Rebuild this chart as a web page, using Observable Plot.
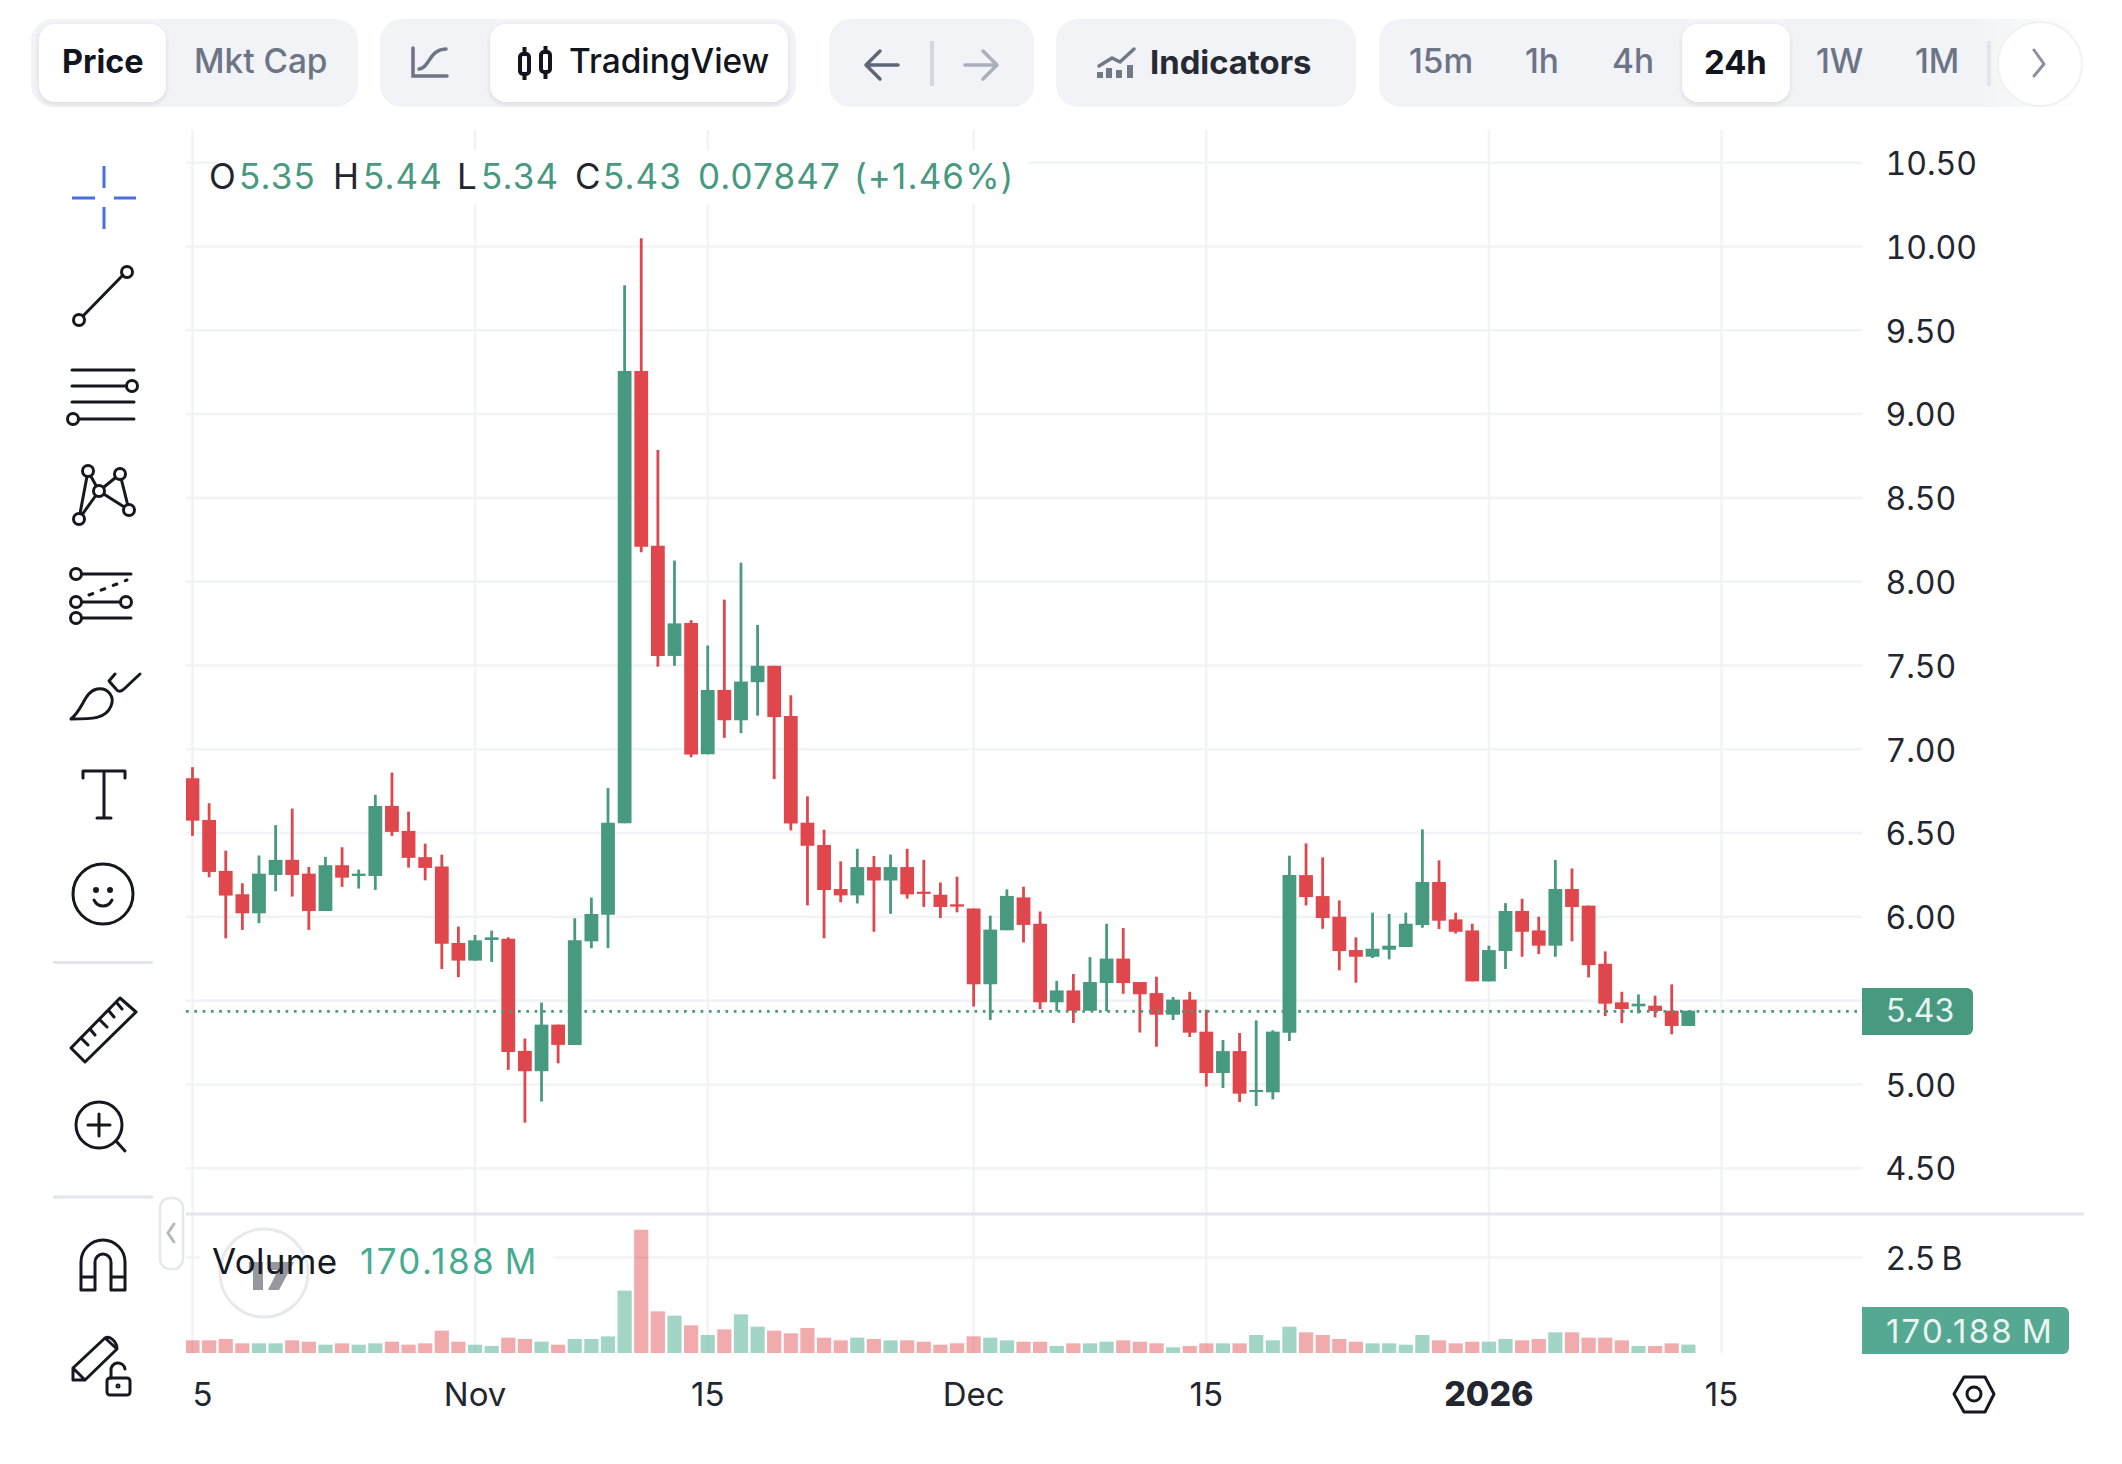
<!DOCTYPE html>
<html><head><meta charset="utf-8">
<script src="https://cdn.jsdelivr.net/npm/d3@7"></script>
<script src="https://cdn.jsdelivr.net/npm/@observablehq/plot@0.6"></script>
<style>
html,body{margin:0;padding:0;background:#fff;width:2122px;height:1464px;overflow:hidden;font-family:Inter,"Noto Sans",sans-serif}
#page{position:relative;width:2122px;height:1464px;overflow:hidden}
.layer{position:absolute;left:0}
.box{position:absolute}
.t{position:absolute;white-space:pre;transform:translateY(-50%);line-height:1;font-family:Inter,sans-serif}
svg.chrome{position:absolute;left:0;top:0;pointer-events:none}
svg.chrome .k{fill:none;stroke:#15181f;stroke-width:3;stroke-linecap:round;stroke-linejoin:round}
</style></head><body><div id="page"></div>
<script>
const firstDay = "2025-10-15";
const openPrice = [6.824,6.575,6.271,6.132,6.018,6.247,6.337,6.255,6.032,6.305,6.241,6.241,6.659,6.510,6.353,6.297,5.841,5.736,5.859,5.867,5.197,5.076,5.354,5.233,5.851,6.009,6.555,9.254,8.212,7.554,7.750,6.967,7.351,7.170,7.397,7.495,7.196,6.559,6.426,6.163,6.125,6.294,6.214,6.294,6.147,6.129,6.072,6.047,5.595,5.917,6.113,5.956,5.487,5.558,5.437,5.602,5.748,5.608,5.542,5.413,5.503,5.312,5.065,5.196,4.952,4.950,5.306,6.246,6.121,5.998,5.799,5.759,5.801,5.817,5.948,6.205,5.982,5.916,5.612,5.793,6.032,5.916,5.825,6.163,6.064,5.717,5.487,5.463,5.467,5.437,5.346];
const highPrice = [6.890,6.675,6.392,6.197,6.363,6.544,6.643,6.295,6.355,6.412,6.279,6.725,6.858,6.625,6.434,6.368,5.939,5.889,5.915,5.875,5.271,5.485,5.354,5.989,6.112,6.766,9.765,10.046,8.783,8.123,7.767,7.616,7.890,8.110,7.739,7.495,7.319,6.716,6.517,6.328,6.403,6.360,6.369,6.403,6.337,6.202,6.237,6.047,6.004,6.161,6.177,6.029,5.615,5.656,5.757,5.956,5.930,5.608,5.640,5.519,5.550,5.443,5.262,5.304,5.379,5.320,6.362,6.435,6.352,6.095,5.875,6.022,6.014,6.022,6.519,6.334,6.022,5.956,5.825,6.079,6.105,5.998,6.336,6.286,6.064,5.791,5.550,5.534,5.527,5.594,5.437];
const lowPrice = [6.480,6.233,5.869,5.919,5.959,6.150,6.118,5.919,6.032,6.176,6.166,6.158,6.480,6.291,6.215,5.686,5.637,5.736,5.728,5.084,4.769,4.895,5.123,5.233,5.810,5.810,6.555,8.172,7.490,7.495,6.949,6.967,7.065,7.093,7.198,6.819,6.513,6.065,5.869,6.084,6.077,5.908,6.015,6.106,6.056,5.990,6.024,5.462,5.382,5.917,5.844,5.446,5.433,5.364,5.437,5.433,5.538,5.307,5.222,5.381,5.280,4.984,4.976,4.892,4.868,4.908,5.256,6.065,5.926,5.678,5.604,5.751,5.743,5.817,5.932,5.924,5.898,5.612,5.612,5.686,5.759,5.775,5.759,5.851,5.636,5.405,5.363,5.421,5.397,5.296,5.346];
const closePrice = [6.571,6.265,6.124,6.018,6.255,6.337,6.247,6.032,6.305,6.231,6.255,6.659,6.504,6.349,6.289,5.836,5.736,5.857,5.875,5.191,5.076,5.354,5.233,5.857,6.014,6.559,9.254,8.206,7.554,7.748,6.965,7.351,7.170,7.401,7.495,7.189,6.554,6.421,6.157,6.125,6.294,6.214,6.294,6.131,6.134,6.056,6.058,5.595,5.921,6.122,5.949,5.487,5.558,5.437,5.608,5.748,5.602,5.535,5.413,5.503,5.306,5.065,5.196,4.942,4.964,5.312,6.246,6.115,5.990,5.793,5.759,5.807,5.825,5.956,6.205,5.974,5.908,5.612,5.799,6.032,5.908,5.825,6.163,6.056,5.709,5.479,5.447,5.479,5.435,5.346,5.437];
const volumeM = [284,284,319,204,204,204,284,248,168,204,168,204,248,168,204,541,248,168,133,355,319,248,168,319,319,390,1605,3228,1055,940,683,426,576,975,647,541,470,612,355,284,355,319,284,284,248,168,204,390,355,284,248,248,133,204,204,248,284,248,204,98,133,204,204,204,426,284,647,497,426,319,248,204,204,168,426,284,204,248,248,319,284,319,497,497,355,355,284,133,133,204,170.188];
const priceTicks = [4.5,5,5.5,6,6.5,7,7.5,8,8.5,9,9.5,10,10.5];
const priceLabels = [4.5,5,6,6.5,7,7.5,8,8.5,9,9.5,10,10.5];
const volumeTicks = [2500];
const timeTicks = ["2025-10-15","2025-11-01","2025-11-15","2025-12-01","2025-12-15","2026-01-01","2026-01-15"];
const timeLabels = ["5","Nov","15","Dec","15","2026","15"];
const lastPrice = 5.436;

const GREEN="#47997f", RED="#e0474c", GRID="#f2f3f6", INK="#23262f";
const day0 = new Date(firstDay+"T00:00:00Z");
const D = 864e5;
const xDomain = [new Date(+day0 - 0.361*D), new Date(+day0 + 100.48*D)];
const candles = openPrice.map((o,i)=>({date:new Date(+day0+i*D),open:o,high:highPrice[i],low:lowPrice[i],close:closePrice[i],vol:volumeM[i],up:closePrice[i]>=o}));
const gridDates = timeTicks.map(s=>new Date(s+"T00:00:00Z"));
const page = document.getElementById("page");
const base = {width:2122,marginLeft:186,marginRight:260,marginTop:0,marginBottom:0,
  style:{background:"transparent",color:INK,fontFamily:"Inter, sans-serif",overflow:"visible"}};
function put(node,top){const d=document.createElement("div");d.className="layer";d.style.top=top+"px";d.appendChild(node);page.appendChild(d);}

// Price pane
const pricePlot = Plot.plot({...base,height:1084,
  x:{type:"utc",domain:xDomain,axis:null},
  y:{domain:[4.224,10.692],axis:null},
  marks:[
    Plot.ruleY(priceTicks,{stroke:GRID,strokeWidth:2.6}),
    Plot.ruleX(gridDates,{stroke:GRID,strokeWidth:2.4}),
    Plot.ruleX(candles,{x:"date",y1:"low",y2:"high",stroke:d=>d.up?GREEN:RED,strokeWidth:2.8,clip:true}),
    Plot.ruleX(candles,{x:"date",y1:"open",y2:"close",stroke:d=>d.up?GREEN:RED,strokeWidth:13.8,clip:true}),
    Plot.ruleY([lastPrice],{stroke:GREEN,strokeWidth:2.7,strokeDasharray:"2.7 5.6"}),
    Plot.axisY(priceLabels,{anchor:"right",tickSize:0,tickPadding:23,fontSize:32,dy:2,tickFormat:d=>d.toFixed(2),label:null})
  ]});
put(pricePlot,130);

// Volume pane
const volBottom = -53;
const volumePlot = Plot.plot({...base,height:139,
  x:{type:"utc",domain:xDomain,axis:null},
  y:{domain:[volBottom,3644],axis:null},
  marks:[
    Plot.ruleY(volumeTicks,{stroke:GRID,strokeWidth:2.6}),
    Plot.ruleX(gridDates,{stroke:GRID,strokeWidth:2.4}),
    Plot.ruleX(candles,{x:"date",y1:volBottom,y2:"vol",stroke:d=>d.up?"#47ab90":"#e0474c",strokeOpacity:d=>d.up?0.5:0.46,strokeWidth:14.2,clip:true}),
    Plot.axisY(volumeTicks,{anchor:"right",tickSize:0,tickPadding:23,fontSize:32,dy:2,tickFormat:d=>(d/1000).toFixed(1)+"\u2009B",label:null})
  ]});
put(volumePlot,1214);

// Time axis labels
const timeRows = gridDates.map((date,i)=>({date,label:timeLabels[i]}));
const timePlot = Plot.plot({...base,height:60,
  x:{type:"utc",domain:xDomain,axis:null},
  marks:[
    Plot.text(timeRows.slice(0,1),{x:"date",frameAnchor:"middle",text:"label",fontSize:33,dx:10,dy:0}),
    Plot.text(timeRows.slice(1,5),{x:"date",frameAnchor:"middle",text:"label",fontSize:33,dy:0}),
    Plot.text(timeRows.slice(5,6),{x:"date",frameAnchor:"middle",text:"label",fontSize:34,dy:0,fontWeight:800,letterSpacing:"1.5px"}),
    Plot.text(timeRows.slice(6),{x:"date",frameAnchor:"middle",text:"label",fontSize:33,dy:0})
  ]});
put(timePlot,1365);

// Chrome
function box(x,y,w,h,css){const e=document.createElement("div");e.className="box";e.style.cssText=`left:${x}px;top:${y}px;width:${w}px;height:${h}px;${css||""}`;page.appendChild(e);return e;}
function txt(x,yc,s,css){const e=document.createElement("div");e.className="t";e.textContent=s;e.style.cssText=`left:${x}px;top:${yc}px;font-size:33px;${css||""}`;page.appendChild(e);return e;}
const BG="#f1f3f6", SH="box-shadow:0 2px 5px rgba(40,50,70,.12);";
box(31,19,327,88,`background:${BG};border-radius:22px`);
box(39,24,127,78,`background:#fff;border-radius:16px;${SH}`);
box(380,19,416,88,`background:${BG};border-radius:22px`);
box(490,24,298,78,`background:#fff;border-radius:16px;${SH}`);
box(829,19,205,88,`background:${BG};border-radius:22px`);
box(1056,19,300,88,`background:${BG};border-radius:22px`);
box(1379,19,702,88,`background:linear-gradient(90deg,${BG} 0,${BG} 85%,#fff 100%);border-radius:22px 0 0 22px`);
box(1682,24,108,78,`background:#fff;border-radius:16px;${SH}`);
box(930,41,4,45,"background:#d3d7df");
box(1987,41,4,45,"background:#e2e5ea");
box(1997,21,86,86,"background:#fff;border:2px solid #eff1f4;border-radius:50%;box-sizing:border-box");
const SOFT="color:#6c7486;font-weight:500;font-size:33.4px;";
txt(62,62.3,"Price","font-weight:700;color:#12151d;font-size:32.4px");
txt(194,62.3,"Mkt Cap",SOFT);
txt(569,62.3,"TradingView","font-weight:500;color:#12151d;font-size:33.4px");
txt(1150,62.3,"Indicators","font-weight:700;color:#262a35;font-size:32.8px");
txt(1409,62.3,"15m",SOFT);
txt(1525,62.3,"1h",SOFT);
txt(1612,62.3,"4h",SOFT);
txt(1704,62.3,"24h","font-weight:700;color:#12151d;font-size:32.8px");
txt(1816,62.3,"1W",SOFT);
txt(1915,62.3,"1M",SOFT);

// OHLC legend
box(216,150,812,54,"background:rgba(255,255,255,.85)");
const legend=[["O",209,INK],["5.35",239,GREEN],["H",333,INK],["5.44",363,GREEN],["L",457,INK],["5.34",481,GREEN],["C",575,INK],["5.43",603,GREEN],["0.07847",698,GREEN],["(+1.46%)",854,GREEN]];
legend.forEach(([s,x,c])=>txt(x,175.5,s,`color:${c};font-size:35px;letter-spacing:1.1px`));

// Volume legend backing and tags
box(200,1245,355,26,"background:rgba(255,255,255,.88)");
box(1862,988,111,47,`background:${GREEN};border-radius:0 6px 6px 0`);
txt(1886,1011,"5.43","color:#eaf5f1;font-size:32px");
box(1862,1307,207,47,"background:#55a892;border-radius:0 6px 6px 0");
txt(1886,1331,"170.188\u2009M","color:#eaf5f1;font-size:33px;letter-spacing:2.2px");

const ns="http://www.w3.org/2000/svg";
const icons=document.createElementNS(ns,"svg");
icons.setAttribute("class","chrome");icons.setAttribute("width",2122);icons.setAttribute("height",1464);
icons.innerHTML=`
<rect x="186" y="1212.5" width="1898" height="3" fill="#e4e6ed"/>
<rect x="53" y="961" width="100" height="3" fill="#e4e6ed"/>
<rect x="53" y="1195.5" width="100" height="3" fill="#e4e6ed"/>
<rect x="160" y="1198" width="23" height="71" rx="10" fill="#fff" stroke="#e6e8ee" stroke-width="2.5"/>
<path d="M174 1224 L168 1233 L174 1242" fill="none" stroke="#b5b9c4" stroke-width="3" stroke-linecap="round"/>
<!-- toolbar icons -->
<path d="M413 48 V76 H447" fill="none" stroke="#6c7486" stroke-width="3.5" stroke-linecap="round"/>
<path d="M419 69 C430 68 428 50 446 49" fill="none" stroke="#6c7486" stroke-width="3.5" stroke-linecap="round"/>
<g fill="none" stroke="#12151d" stroke-width="4">
<rect x="520" y="54" width="9" height="20" rx="3"/><rect x="541" y="52" width="9" height="20" rx="3"/>
<path d="M524.5 47 V54 M524.5 74 V80 M545.5 46 V52 M545.5 72 V79"/></g>
<path d="M898 65 H867 M880 51 L866 65 L880 79" fill="none" stroke="#5e6678" stroke-width="3.5" stroke-linecap="round" stroke-linejoin="round"/>
<path d="M965 65 H996 M983 51 L997 65 L983 79" fill="none" stroke="#a9afbd" stroke-width="3.5" stroke-linecap="round" stroke-linejoin="round"/>
<path d="M1099 66 L1112 58 L1120 62 L1134 49" fill="none" stroke="#717989" stroke-width="3.5" stroke-linecap="round"/>
<path d="M1100 78 V72 M1109 78 V68 M1119 78 V70 M1130 78 V65" fill="none" stroke="#717989" stroke-width="6"/>
<path d="M2034 50 L2044 64 L2034 76" fill="none" stroke="#8a90a0" stroke-width="3" stroke-linecap="round" stroke-linejoin="round"/>
<!-- side tools -->
<path d="M104 166 V188 M104 207 V229 M72 198 H95 M114 198 H136" fill="none" stroke="#4a6fdc" stroke-width="3"/>
<g class="k">
<path d="M83 316 L123 275"/><circle cx="79" cy="320" r="5.5"/><circle cx="127" cy="272" r="5.5"/>
<path d="M72 370 H134 M72 386 H126 M72 402 H134 M79 419 H134"/><circle cx="132" cy="386" r="5.5"/><circle cx="73" cy="419" r="5.5"/>
<path d="M79 519 L88 471 L99 491 L79 519 M99 491 L120 474 L129 510 L99 491"/>
<g fill="#fff"><circle cx="88" cy="471" r="5.5"/><circle cx="120" cy="474" r="5.5"/><circle cx="99" cy="491" r="5.5"/><circle cx="129" cy="510" r="5.5"/><circle cx="79" cy="519" r="5.5"/></g>
<path d="M82 574 H131 M82 602 H120 M82 618 H131"/><circle cx="76" cy="574" r="5.5"/><circle cx="76" cy="602" r="5.5"/><circle cx="126" cy="602" r="5.5"/><circle cx="76" cy="618" r="5.5"/>
<path d="M89 595 L127 580" stroke-dasharray="4 9"/>
<path d="M71 719 C84 708 84 692 97 689 C108 687 115 697 111 706 C106 719 92 719 71 719 Z"/>
<path d="M115 674 L109 681 L116 689 C118 692 121 692 124 689 L140 674"/>
<path d="M83 778 V771 H125 V778 M104 771 V818 M97 818 H111"/>
<circle cx="103" cy="894" r="30"/><path d="M94 900 C98 908 108 908 112 900"/>
<circle cx="96" cy="890" r="1.5" fill="#15181f"/><circle cx="110" cy="890" r="1.5" fill="#15181f"/>
<path d="M120 998 L136 1012 L85 1062 L71 1048 Z"/><path d="M81 1038 L88 1045 M90 1029 L95 1035 M100 1020 L107 1027 M109 1011 L114 1017 M117 1003 L122 1009"/>
<circle cx="99" cy="1125" r="23"/><path d="M99 1114 V1136 M88 1125 H110 M116 1141 L125 1151"/>
<path d="M81 1290 V1262 A22 22 0 0 1 125 1262 V1290 H111 V1262 A8 8 0 0 0 95 1262 V1290 Z M81 1277 H95 M111 1277 H125"/>
<path d="M73 1380 L73 1368 L105 1338 C110 1335 117 1342 117 1349 L85 1380 Z M105 1338 L117 1349 M73 1368 L85 1380"/>
<rect x="107" y="1378" width="23" height="17" rx="3"/><path d="M111 1378 V1371 A7 7 0 0 1 125 1369"/><circle cx="118" cy="1386" r="1" />
<path d="M1954 1394 L1964 1377 H1985 L1994 1394 L1985 1412 H1964 Z" stroke-width="3"/><circle cx="1974" cy="1394" r="7"/>
</g>
<!-- watermark -->
<circle cx="264" cy="1273" r="44" fill="none" stroke="#e8e9ee" stroke-width="3"/>
<path d="M249 1262 H263 V1290 H253 V1270 H249 Z M268 1262 H294 L279 1290 H268 L278 1270 H268 Z" fill="#97979e"/>`;
page.appendChild(icons);
// Volume legend text above the watermark
txt(212,1261,"Volume",`color:#15181f;font-size:35px;letter-spacing:.3px`);
txt(360,1261,"170.188\u2009M",`color:#47ab90;font-size:35px;letter-spacing:2.4px`);
</script></body></html>
